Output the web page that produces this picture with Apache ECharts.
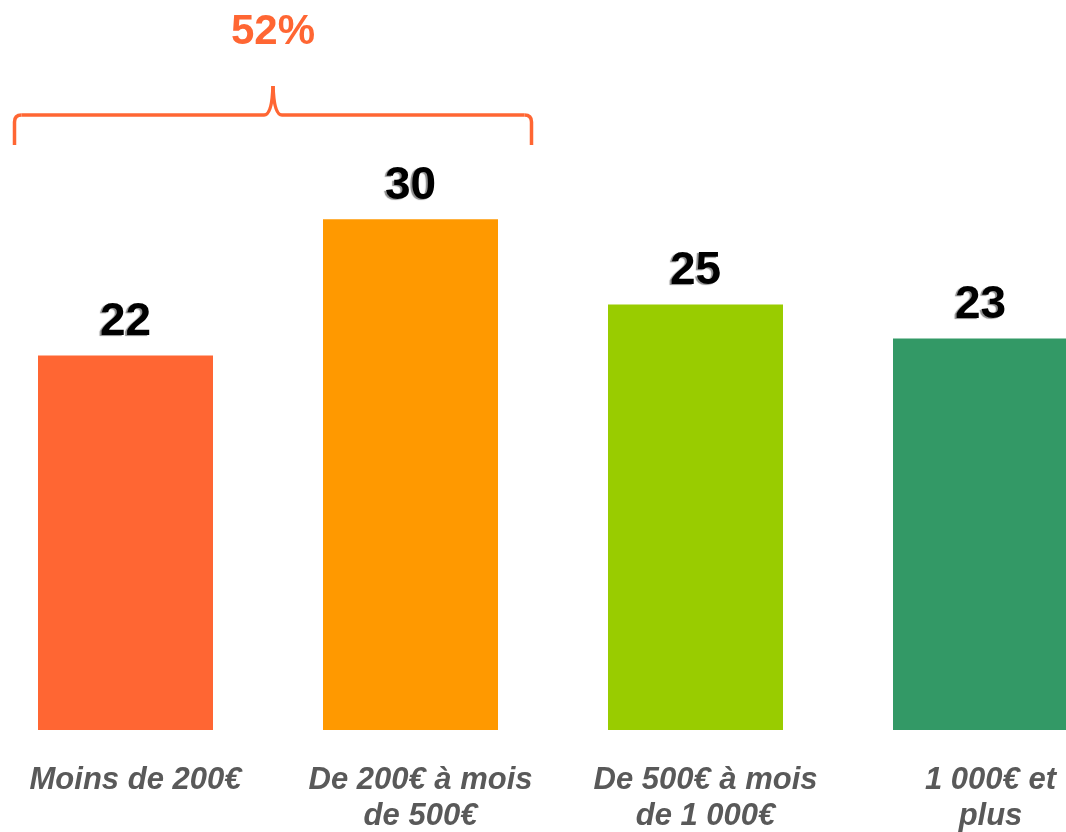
<!DOCTYPE html>
<html>
<head>
<meta charset="utf-8">
<script src="https://cdn.jsdelivr.net/npm/echarts@6/dist/echarts.min.js"></script>
<style>
  html, body { margin: 0; padding: 0; background: #fff; }
  #chart { width: 1066px; height: 832px; }
</style>
</head>
<body>
<div id="chart"></div>
<script>
// catégories de budget
const categories = ['Moins de 200€', 'De 200€ à mois\nde 500€', 'De 500€ à mois\nde 1 000€', '1 000€ et\nplus']
const values = [22, 30, 25, 23]
const barColors = ['#FF6633', '#FF9900', '#99CC00', '#339966']
// total des deux premières tranches
const braceLabel = '52%'

const chart = echarts.init(document.getElementById('chart'))

const option = {
  animation: false,
  grid: { left: -17, right: -57, top: 49, bottom: 102, containLabel: false, outerBoundsMode: 'none' },
  xAxis: {
    type: 'category',
    data: categories,
    axisLine: { show: false },
    axisTick: { show: false },
    axisLabel: {
      interval: 0,
      margin: 32,
      fontFamily: 'Liberation Sans, Arial, sans-serif',
      fontSize: 31,
      fontWeight: 'bold',
      fontStyle: 'italic',
      color: '#595959',
      lineHeight: 36,
      padding: [0, 0, 0, 20]
    }
  },
  yAxis: {
    type: 'value',
    min: 0,
    max: 40,
    show: false,
    splitLine: { show: false }
  },
  series: [{
    type: 'bar',
    barWidth: 175,
    data: values.map((v, i) => ({ value: v, itemStyle: { color: barColors[i] } })),
    label: {
      show: true,
      position: 'top',
      distance: 10,
      fontFamily: 'Liberation Sans, Arial, sans-serif',
      fontSize: 46,
      fontWeight: 'bold',
      color: '#000',
      textShadowColor: 'rgba(0,0,0,0.45)',
      textShadowOffsetX: -2,
      textShadowOffsetY: 1,
      textShadowBlur: 1
    }
  }]
}
chart.setOption(option)

// accolade au-dessus des deux premières barres
const c0 = chart.convertToPixel({ xAxisIndex: 0 }, 0)
const c1 = chart.convertToPixel({ xAxisIndex: 0 }, 1)
const xl = c0 - 111
const xr = c1 + 121
const xm = (xl + xr) / 2
const yEnd = 145, yBar = 115, yTip = 86, r = 7
const braceStyle = { stroke: '#FF6633', lineWidth: 3.5, fill: null }
const seg = (x1, y1, x2, y2) => ({ type: 'line', shape: { x1, y1, x2, y2 }, style: braceStyle })
const curve = (x1, y1, cx, cy, x2, y2) => ({
  type: 'bezierCurve', shape: { x1, y1, cpx1: cx, cpy1: cy, x2, y2 }, style: braceStyle
})

chart.setOption({
  graphic: [
    seg(xl, yEnd, xl, yBar + r),
    curve(xl, yBar + r, xl, yBar, xl + r, yBar),
    seg(xl + r, yBar, xm - 9, yBar),
    curve(xm - 9, yBar, xm - 1, yBar, xm, yTip),
    curve(xm, yTip, xm + 1, yBar, xm + 9, yBar),
    seg(xm + 9, yBar, xr - r, yBar),
    curve(xr - r, yBar, xr, yBar, xr, yBar + r),
    seg(xr, yBar + r, xr, yEnd),
    {
      type: 'text',
      x: xm,
      y: 32,
      style: {
        text: braceLabel,
        fontFamily: 'Liberation Sans, Arial, sans-serif',
        fontSize: 42,
        fontWeight: 'bold',
        fill: '#FF6633',
        align: 'center',
        verticalAlign: 'middle'
      }
    }
  ]
})
</script>
</body>
</html>
